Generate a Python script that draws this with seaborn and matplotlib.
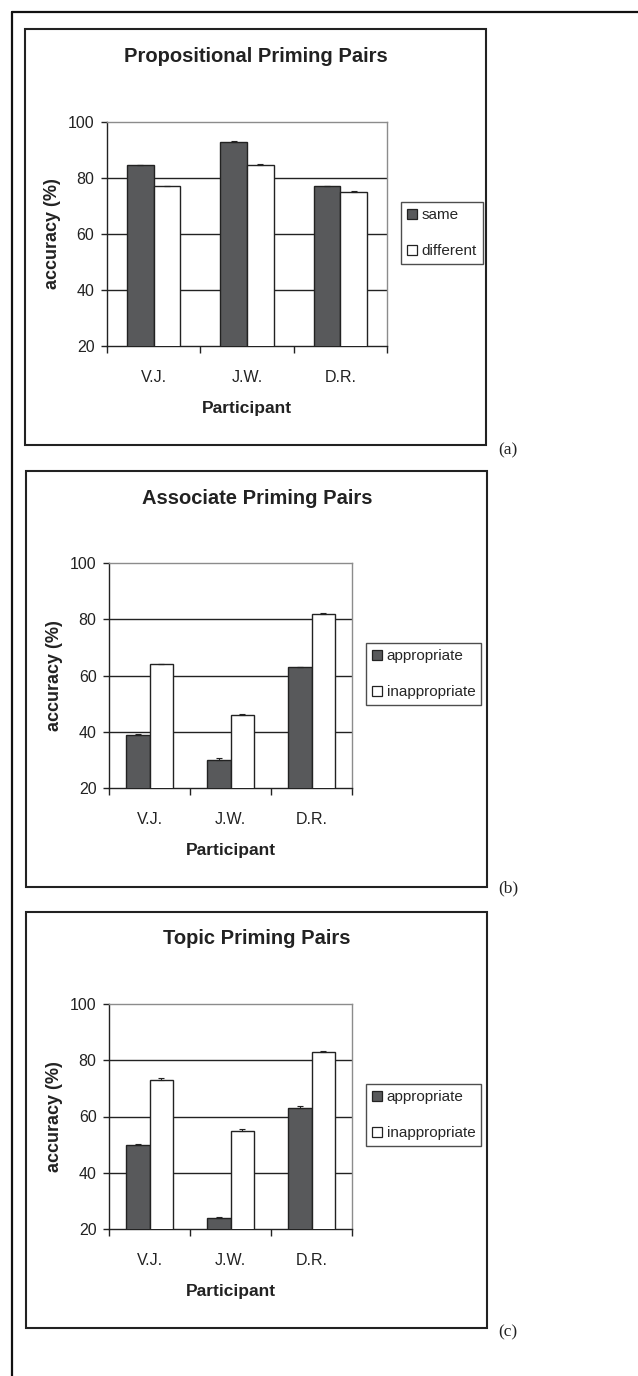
import matplotlib
matplotlib.use("Agg")
import matplotlib.pyplot as plt
import seaborn as sns
import pandas as pd
from matplotlib.patches import Rectangle
from matplotlib.lines import Line2D

# data
participants = ["V.J.", "J.W.", "D.R."]

prop_levels = ["same", "different"]
prop_same = [84.5, 93, 77]
prop_diff = [77, 84.5, 75]
prop_same_err = [0.2, 0.2, 0.2]
prop_diff_err = [0.2, 0.6, 0.3]

assoc_levels = ["appropriate", "inappropriate"]
assoc_appr = [39, 30, 63]
assoc_inap = [64, 46, 82]
assoc_appr_err = [0.2, 0.6, 0.2]
assoc_inap_err = [0.2, 0.2, 0.2]

topic_levels = ["appropriate", "inappropriate"]
topic_appr = [50, 24, 63]
topic_inap = [73, 55, 83]
topic_appr_err = [0.4, 0.4, 0.6]
topic_inap_err = [0.6, 0.6, 0.3]

yticks = [20, 40, 60, 80, 100]
gridvals = [40, 60, 80]

DARK = "#58595b"
INK = "#222222"

sns.set_style("white")
plt.rcParams["font.family"] = ["Liberation Sans", "DejaVu Sans"]

W, H = 638, 1376
fig = plt.figure(figsize=(W / 100, H / 100), dpi=100)


def fx(x):
    return x / W


def fy(y):
    return 1 - y / H


def draw_panel(title, levels, v0, v1, e0, e1, axbox, box, tpos, lpos, letter, ly, wid):
    df = pd.DataFrame({
        "Participant": participants * 2,
        "condition": [levels[0]] * 3 + [levels[1]] * 3,
        "accuracy": v0 + v1,
    })
    l, t, r, b = axbox
    ax = fig.add_axes([fx(l), fy(b), (r - l) / W, (b - t) / H])
    sns.barplot(data=df, x="Participant", y="accuracy", hue="condition",
                palette={levels[0]: DARK, levels[1]: "white"}, width=wid,
                edgecolor=INK, linewidth=1, errorbar=None, ax=ax, zorder=3)

    for cont, errs in zip(ax.containers, [e0, e1]):
        for bar, e in zip(cont, errs):
            ax.errorbar(bar.get_x() + bar.get_width() / 2, bar.get_height(),
                        yerr=[[0], [e]], fmt="none", ecolor=INK,
                        elinewidth=0.8, capsize=2.5, capthick=0.8, zorder=4)

    for g in gridvals:
        ax.axhline(g, color=INK, lw=1, zorder=0.5)

    ax.set_ylim(20, 100)
    ax.set_xlim(-0.5, 2.5)
    ax.set_yticks(yticks)
    ax.set_xticks([-0.5, 0.5, 1.5, 2.5], minor=True)
    ax.tick_params(axis="y", left=True, length=4, width=1, color=INK,
                   labelsize=11.5, labelcolor=INK, pad=5)
    ax.tick_params(axis="x", which="major", bottom=True, length=0,
                   labelsize=11.5, labelcolor=INK, pad=17)
    ax.tick_params(axis="x", which="minor", bottom=True, length=5,
                   width=1, color=INK)
    for s in ["top", "right"]:
        ax.spines[s].set_color("#8c8c8c")
        ax.spines[s].set_linewidth(1)
    for s in ["left", "bottom"]:
        ax.spines[s].set_color(INK)
        ax.spines[s].set_linewidth(1)

    ax.set_xlabel("Participant", fontsize=12.5, fontweight="bold", color=INK, labelpad=12)
    ax.set_ylabel("accuracy (%)", fontsize=13, fontweight="bold", color=INK, labelpad=5)

    old = ax.get_legend()
    handles = old.legend_handles
    labels = [tx.get_text() for tx in old.get_texts()]
    old.remove()
    leg = ax.legend(handles, labels, loc="upper left",
                    bbox_to_anchor=(fx(lpos[0]), fy(lpos[1])),
                    bbox_transform=fig.transFigure, borderaxespad=0,
                    fancybox=False, frameon=True, fontsize=11,
                    handlelength=0.65, handleheight=0.65, handletextpad=0.3,
                    labelspacing=1.45, borderpad=0.4)
    leg.get_frame().set_edgecolor(INK)
    leg.get_frame().set_linewidth(1)
    for h in leg.legend_handles:
        h.set_edgecolor(INK)
        h.set_linewidth(0.9)

    fig.text(fx(tpos[0]), fy(tpos[1]), title, ha="center", va="center",
             fontsize=14.5, fontweight="bold", color=INK)

    x0, y0, x1, y1 = box
    fig.add_artist(Rectangle((fx(x0), fy(y1)), (x1 - x0) / W, (y1 - y0) / H,
                             transform=fig.transFigure, fill=False,
                             ec=INK, lw=1.5))
    fig.text(fx(508), fy(ly), letter, ha="center", va="center", fontsize=12.5,
             family=["Liberation Serif", "DejaVu Serif"], color=INK)


draw_panel("Propositional Priming Pairs", prop_levels, prop_same, prop_diff,
           prop_same_err, prop_diff_err, (107, 122, 387, 346),
           (25, 29, 486, 445), (256, 57), (401, 202), "(a)", 450, 0.57)
draw_panel("Associate Priming Pairs", assoc_levels, assoc_appr, assoc_inap,
           assoc_appr_err, assoc_inap_err, (109, 563, 352, 788),
           (26, 471, 487, 887), (257, 498), (366, 643), "(b)", 888, 0.59)
draw_panel("Topic Priming Pairs", topic_levels, topic_appr, topic_inap,
           topic_appr_err, topic_inap_err, (109, 1004, 352, 1229),
           (26, 912, 487, 1328), (257, 939), (366, 1084), "(c)", 1332, 0.59)

# outer frame (left and top edge of the page)
fig.add_artist(Line2D([fx(12), fx(12)], [fy(12), 0], transform=fig.transFigure,
                      color="#111111", lw=1.6))
fig.add_artist(Line2D([fx(12), 1], [fy(12), fy(12)], transform=fig.transFigure,
                      color="#111111", lw=1.6))

fig.savefig("out.png", dpi=100)
